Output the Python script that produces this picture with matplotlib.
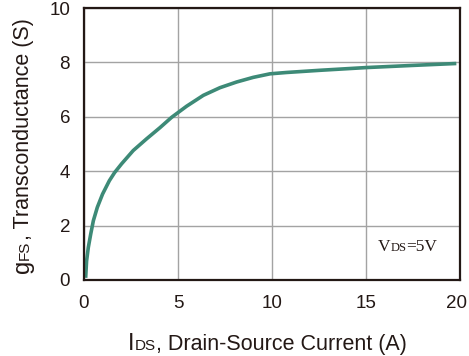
import numpy as np
import matplotlib
matplotlib.use('Agg')
import matplotlib.pyplot as plt
import matplotlib.transforms as mtransforms

# Transfer characteristic, VDS = 5V
ids = [0.09, 0.14, 0.23, 0.36, 0.5, 0.71, 0.99, 1.35, 1.63, 2.0, 2.62, 3.33, 4.04,
       4.66, 5.46, 6.35, 7.23, 8.12, 9.0, 9.89, 10.78, 12.55, 15.0, 17.5, 19.8]
gfs = [0.08, 0.70, 1.19, 1.69, 2.18, 2.67, 3.16, 3.65, 3.95, 4.27, 4.76, 5.19, 5.6,
       5.98, 6.39, 6.79, 7.07, 7.28, 7.45, 7.58, 7.63, 7.71, 7.81, 7.89, 7.96]

x_ticks = [0, 5, 10, 15, 20]
y_ticks = [0, 2, 4, 6, 8, 10]

SANS = 'Liberation Sans'
SERIF = 'Liberation Serif'
INK = '#231815'

fig = plt.figure(figsize=(4.69, 3.56), dpi=100)
ax = fig.add_axes([0.179, 0.2135, 0.802, 0.764])
renderer = fig.canvas.get_renderer()


def chain_text(x, y, pieces, family, vertical=False):
    """Write text pieces of mixed size along one baseline, starting at figure coords (x, y)."""
    W, H = fig.bbox.width, fig.bbox.height
    px, py = x * W, y * H
    for s, size in pieces:
        if vertical:
            t = fig.text(px / W, py / H, s, fontsize=size, family=family, color=INK,
                         rotation=90, rotation_mode='anchor', ha='left', va='baseline')
            py += t.get_window_extent(renderer).height
        else:
            t = fig.text(px / W, py / H, s, fontsize=size, family=family, color=INK,
                         ha='left', va='baseline')
            px += t.get_window_extent(renderer).width


ax.plot(ids, gfs, color='#3d8a77', linewidth=2.6, solid_capstyle='butt', zorder=3)

ax.set_xlim(0, 20)
ax.set_ylim(0, 10)
ax.set_xticks(x_ticks)
ax.set_yticks(y_ticks)
ax.tick_params(length=0, labelsize=13.5, colors=INK)
ax.tick_params(axis='x', pad=11)
ax.tick_params(axis='y', pad=10)
for lbl in ax.get_xticklabels() + ax.get_yticklabels():
    lbl.set_family(SANS)
# keep the last x label inside the figure
last = ax.xaxis.get_major_ticks()[-1].label1
last.set_transform(last.get_transform() +
                   mtransforms.ScaledTranslation(-4 / 100, 0, fig.dpi_scale_trans))
ax.grid(True, color='#a3a3a3', linewidth=1.0)
for s in ax.spines.values():
    s.set_color(INK)
    s.set_linewidth(1.6)
    s.set_zorder(4)

# axis titles with small-cap style suffixes
chain_text(128 / 469, 1 - 350 / 356,
           [('I', 17), ('DS', 11), (', Drain-Source Current (A)', 15.5)], SANS)
chain_text(29 / 469, 1 - 273 / 356,
           [('g', 17), ('FS', 11), (', Transconductance (S)', 15.5)], SANS,
           vertical=True)

# VDS=5V condition label
chain_text(378 / 469, 1 - 251 / 356,
           [('V', 12.5), ('DS', 9), ('=5V', 12.5)], SERIF)

fig.savefig('out.png', dpi=100)
